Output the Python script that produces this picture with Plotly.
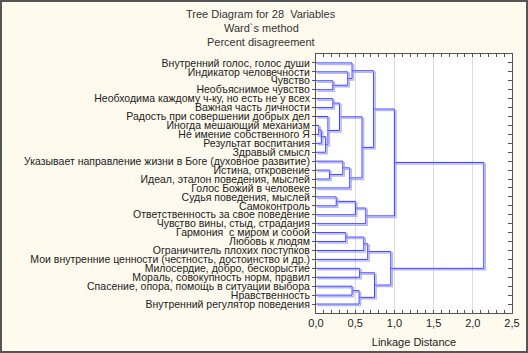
import plotly.graph_objects as go

# ---- data ----
labels = [
    "Внутренний голос, голос души",
    "Индикатор человечности",
    "Чувство",
    "Необъяснимое чувство",
    "Необходима каждому ч-ку, но есть не у всех",
    "Важная часть личности",
    "Радость при совершении добрых дел",
    "Иногда мешающий механизм",
    "Не имение собственного Я",
    "Результат воспитания",
    "Здравый смысл",
    "Указывает направление жизни в Боге (духовное развитие)",
    "Истина, откровение",
    "Идеал, эталон поведения, мыслей",
    "Голос Божий в человеке",
    "Судья поведения, мыслей",
    "Самоконтроль",
    "Ответственность за свое поведение",
    "Чувство вины, стыд, страдания",
    "Гармония  с миром и собой",
    "Любовь к людям",
    "Ограничитель плохих поступков",
    "Мои внутренние ценности (честность, достоинство и др.)",
    "Милосердие, добро, бескорыстие",
    "Мораль, совокупность норм, правил",
    "Спасение, опора, помощь в ситуации выбора",
    "Нравственность",
    "Внутренний регулятор поведения",
]
# linkage: new cluster id = 28 + row index
merge_a = [7, 28, 29, 6, 2, 4, 12, 15, 33, 11, 19, 1, 0, 37, 25, 35, 42, 23, 36, 38, 43, 47, 40, 45, 49, 50, 53]
merge_b = [8, 9, 10, 30, 3, 5, 13, 16, 31, 34, 20, 32, 39, 14, 26, 17, 27, 24, 41, 21, 18, 22, 46, 44, 51, 48, 52]
merge_h = [0.035, 0.068, 0.123, 0.152, 0.215, 0.215, 0.173, 0.258, 0.30, 0.342, 0.38, 0.405,
           0.46, 0.43, 0.46, 0.502, 0.55, 0.557, 0.587, 0.61, 0.635, 0.66, 0.735, 0.747,
           0.954, 1.0, 2.14]
x_ticks = [0, 0.5, 1.0, 1.5, 2.0, 2.5]
x_ticktext = ["0,0", "0,5", "1,0", "1,5", "2,0", "2,5"]

# ---- geometry ----
W, H = 528, 353
ML, MR, MT, MB = 316, 16, 54, 40
PW, PH = W - ML - MR, H - MT - MB
n = len(labels)
XR = [0, 2.5]
YR = [n + 1, 0]

pos = {i: i + 1 for i in range(n)}
hgt = {i: 0.0 for i in range(n)}
xs, ys = [], []
for k, (a, b, h) in enumerate(zip(merge_a, merge_b, merge_h)):
    cid = n + k
    ya, yb = pos[a], pos[b]
    xs += [hgt[a], h, h, hgt[b], None]
    ys += [ya, ya, yb, yb, None]
    pos[cid] = (ya + yb) / 2
    hgt[cid] = h

font_fam = "Arial, Liberation Sans, sans-serif"
fig = go.Figure()

# shadow (offset ~1.5px right/down)
dx = 1.5 * (XR[1] - XR[0]) / PW
dy = 1.5 * (YR[0] - YR[1]) / PH
fig.add_trace(go.Scatter(x=xs, y=ys, mode="lines", xaxis="x2", yaxis="y2",
                         line=dict(color="rgba(150,150,255,0.7)", width=1.5),
                         hoverinfo="skip", showlegend=False))
fig.add_trace(go.Scatter(x=xs, y=ys, mode="lines",
                         line=dict(color="rgb(60,60,255)", width=1),
                         hoverinfo="skip", showlegend=False))
# helper trace for right-side inside ticks
fig.add_trace(go.Scatter(x=[0], y=[1], mode="markers", yaxis="y3",
                         marker=dict(opacity=0), hoverinfo="skip", showlegend=False))

fig.update_layout(
    width=W, height=H,
    margin=dict(l=ML, r=MR, t=MT, b=MB, autoexpand=False),
    paper_bgcolor="#fffaee",
    plot_bgcolor="white",
    font=dict(family=font_fam, size=10.5, color="#222"),
    showlegend=False,
    xaxis=dict(range=XR, tickvals=x_ticks, ticktext=x_ticktext, automargin=False,
               showgrid=True, gridcolor="#dcdcdc", gridwidth=1,
               zeroline=False, showline=True, linecolor="#555", linewidth=1,
               mirror="allticks", ticks="inside", ticklen=3, tickcolor="#555",
               minor=dict(dtick=0.1, tick0=0, ticks="inside", ticklen=3, tickcolor="#555", showgrid=False),
               title=dict(text="Linkage Distance", font=dict(size=11, color="#222"), standoff=10),
               tickfont=dict(size=11, color="#222")),
    yaxis=dict(range=YR, tickvals=list(range(1, n + 1)), ticktext=labels, automargin=False,
               showgrid=False, zeroline=False, showline=True, linecolor="#555", linewidth=1,
               mirror=True, ticks="outside", ticklen=3, tickcolor="#555",
               tickfont=dict(size=10.5, color="#222")),
    xaxis2=dict(range=[XR[0] - dx, XR[1] - dx], overlaying="x", visible=False, automargin=False),
    yaxis2=dict(range=[YR[0] - dy, YR[1] - dy], overlaying="y", visible=False, automargin=False),
    yaxis3=dict(range=YR, overlaying="y", side="right", tickvals=list(range(1, n + 1)),
                showticklabels=False, ticks="inside", ticklen=4, tickcolor="#555", automargin=False,
                showgrid=False, zeroline=False, showline=False),
)

def fx(px):
    return (px - ML) / PW

def fy(py):
    return 1 - (py - MT) / PH

for txt, py in [("Tree Diagram for 28  Variables", 14), ("Ward`s method", 27.5), ("Percent disagreement", 41.5)]:
    fig.add_annotation(text=txt, x=fx(261), y=fy(py), xref="paper", yref="paper",
                       xanchor="center", yanchor="middle", showarrow=False,
                       font=dict(size=11, color="#333"))

fig.add_shape(type="rect", xref="paper", yref="paper",
              x0=fx(1), x1=fx(W - 1), y0=fy(H - 1), y1=fy(1),
              line=dict(color="#555", width=2), fillcolor="rgba(0,0,0,0)", layer="above")

fig.write_html("out.html", config={"displayModeBar": False},
               post_script="document.body.style.margin='0';document.body.style.overflow='hidden';")
